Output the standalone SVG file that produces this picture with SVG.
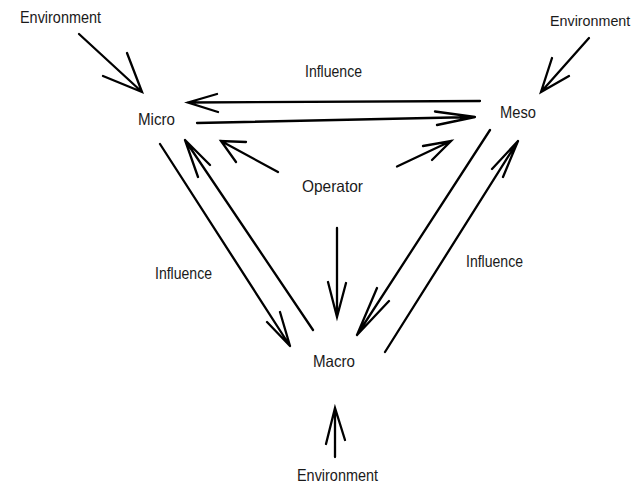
<svg xmlns="http://www.w3.org/2000/svg" width="635" height="486" viewBox="0 0 635 486">
<style>
text{font-family:"Liberation Sans",Arial,sans-serif;font-size:16.5px;fill:#1a1a1a}
.c path{fill:none;stroke:#000;stroke-width:2.3;stroke-linecap:round;stroke-linejoin:miter}
</style>
<rect width="635" height="486" fill="#fff"/>
<g class="c" id="connectors">
<path d="M79,34 L142,92 M127,53 L142,92 L103,76"/>
<path d="M589,38 L541,92 M552,58 L541,92 L569,76"/>
<path d="M480,101 L188,102.5 M217,94 L188,102.5 L218,112"/>
<path d="M197,123 L475,117 M435,111.5 L475,117 L437,125"/>
<path d="M278,172 L221,141 M246,142 L221,141 L236,162"/>
<path d="M397,166.5 L451,141 M423,146 L451,141 L432,160"/>
<path d="M160,144 L290,346 M267,322 L290,346 L280,312"/>
<path d="M313,330 L185,140 M210,165 L185,140 L198,177"/>
<path d="M490,130 L357,335 M377,288 L357,335 L389,301"/>
<path d="M385,352 L518,141 M492,169 L518,141 L503,177"/>
<path d="M337,228 L337,317 M328,282 L337,317 L346,283"/>
<path d="M335,457 L335,408 M326,444 L335,408 L345,440"/>
</g>
<g id="env-tl"><text x="20" y="23" textLength="81" lengthAdjust="spacingAndGlyphs">Environment</text></g>
<g id="env-tr"><text x="550" y="26" style="font-size:14.3px">Environment</text></g>
<g id="influence-top"><text x="305" y="77" textLength="57" lengthAdjust="spacingAndGlyphs">Influence</text></g>
<g id="micro"><text x="138" y="125" textLength="37" lengthAdjust="spacingAndGlyphs">Micro</text></g>
<g id="meso"><text x="500" y="118" textLength="36" lengthAdjust="spacingAndGlyphs">Meso</text></g>
<g id="operator"><text x="302" y="192" textLength="61" lengthAdjust="spacingAndGlyphs">Operator</text></g>
<g id="influence-left"><text x="155" y="279" textLength="57" lengthAdjust="spacingAndGlyphs">Influence</text></g>
<g id="influence-right"><text x="466" y="267" textLength="57" lengthAdjust="spacingAndGlyphs">Influence</text></g>
<g id="macro"><text x="313" y="367" textLength="42" lengthAdjust="spacingAndGlyphs">Macro</text></g>
<g id="env-bottom"><text x="297" y="481" textLength="81" lengthAdjust="spacingAndGlyphs">Environment</text></g>
</svg>
